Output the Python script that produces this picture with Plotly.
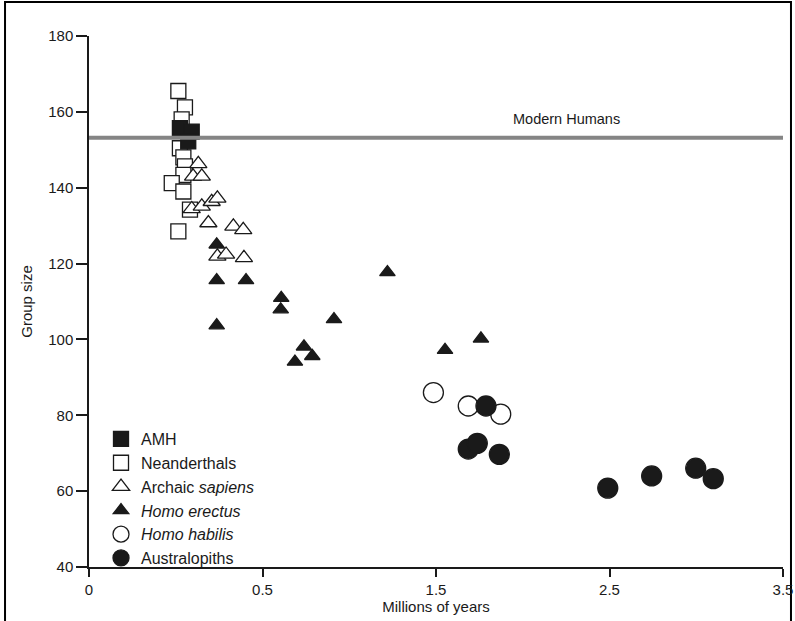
import plotly.graph_objects as go

# x values are positions on the drawn time axis (tick positions 0..4 carry labels 0, 0.5, 1.5, 2.5, 3.5)
tick_pos = [0, 1, 2, 3, 4]
tick_labels = ["0", "0.5", "1.5", "2.5", "3.5"]
y_ticks = [40, 60, 80, 100, 120, 140, 160, 180]

modern_humans = 153.2

amh_x = [0.524, 0.592, 0.572]
amh_y = [155.7, 154.8, 152.2]

nean_x = [0.515, 0.553, 0.534, 0.524, 0.544, 0.553, 0.544, 0.477, 0.544, 0.582, 0.515]
nean_y = [165.5, 161.2, 158.0, 150.4, 148.0, 145.6, 143.4, 141.2, 139.0, 134.2, 128.5]

arch_x = [0.63, 0.60, 0.65, 0.592, 0.65, 0.707, 0.74, 0.688, 0.832, 0.889, 0.74, 0.79, 0.893]
arch_y = [146.3, 143.0, 143.0, 134.4, 135.1, 136.3, 137.2, 130.7, 129.8, 128.9, 121.9, 122.4, 121.5]

erec_x = [0.736, 0.736, 0.905, 0.736, 1.108, 1.105, 1.412, 1.239, 1.287, 1.187, 1.72, 2.052, 2.259]
erec_y = [125.0, 115.6, 115.6, 103.7, 110.9, 107.9, 105.3, 98.1, 95.6, 94.1, 117.7, 97.2, 100.2]

habi_x = [1.985, 2.186, 2.373]
habi_y = [86.0, 82.45, 80.3]

aust_x = [2.288, 2.186, 2.238, 2.365, 2.99, 3.243, 3.497, 3.598]
aust_y = [82.45, 71.1, 72.6, 69.7, 60.8, 64.0, 66.05, 63.3]

INK = "#1a1a1a"
FONT = "Liberation Sans, Arial, Helvetica, sans-serif"

fig = go.Figure()

def add(name, xs, ys, symbol, size, fill, rank):
    fig.add_trace(go.Scatter(
        x=xs, y=ys, mode="markers", name=name,
        legendrank=rank, legendgroup=name,
        marker=dict(symbol=symbol, size=size, color=fill,
                    line=dict(color=INK, width=1.3)),
        cliponaxis=False,
    ))

add("Neanderthals", nean_x, nean_y, "square", 15, "white", 2)
add("<i>Homo erectus</i>", erec_x, erec_y, "triangle-up", 13.5, INK, 4)
add("Archaic <i>sapiens</i>", arch_x, arch_y, "triangle-up", 15, "white", 3)
add("AMH", amh_x, amh_y, "square", 15, INK, 1)
add("<i>Homo habilis</i>", habi_x, habi_y, "circle", 20, "white", 5)
add("Australopiths", aust_x, aust_y, "circle", 20, INK, 6)

fig.add_shape(type="line", xref="x", yref="y", x0=-0.08, x1=4, y0=modern_humans, y1=modern_humans,
              line=dict(color="#858585", width=4), layer="above")
fig.add_annotation(x=2.75, y=modern_humans, yref="y", xref="x", text="Modern Humans",
                   showarrow=False, yanchor="bottom", yshift=9,
                   font=dict(size=14.5, color=INK, family=FONT))

# outer frame
fig.add_shape(type="rect", xref="paper", yref="paper", x0=-0.121, x1=1.0115, y0=-0.2, y1=1.064,
              line=dict(color="black", width=2), fillcolor="rgba(0,0,0,0)", layer="below")

fig.update_xaxes(range=[0, 4], tickvals=tick_pos, ticktext=tick_labels,
                 showline=True, linecolor=INK, linewidth=1.5, ticks="outside", ticklen=8,
                 tickcolor=INK, tickwidth=1.5, showgrid=False, zeroline=False,
                 title=dict(text="Millions of years", standoff=0, font=dict(size=15, color=INK, family=FONT)),
                 tickfont=dict(size=15, color=INK, family=FONT))
fig.update_yaxes(range=[40, 180], tickvals=y_ticks,
                 showline=True, linecolor=INK, linewidth=1.5, ticks="outside", ticklen=11,
                 tickcolor=INK, tickwidth=1.5, showgrid=False, zeroline=False,
                 title=dict(text="Group size", standoff=12, font=dict(size=15, color=INK, family=FONT)),
                 tickfont=dict(size=15, color=INK, family=FONT))

fig.update_layout(
    width=795, height=621,
    margin=dict(l=89, r=12, t=36, b=54, autoexpand=False),
    paper_bgcolor="white", plot_bgcolor="white",
    showlegend=True,
    legend=dict(x=0.0173, y=0.273, xanchor="left", yanchor="top", bgcolor="rgba(0,0,0,0)",
                font=dict(size=16, color=INK, family=FONT), tracegroupgap=0,
                itemsizing="trace"),
)

fig.write_html("out.html", config={"displayModeBar": False},
               post_script="document.body.style.margin='0';document.body.style.overflow='hidden';")
